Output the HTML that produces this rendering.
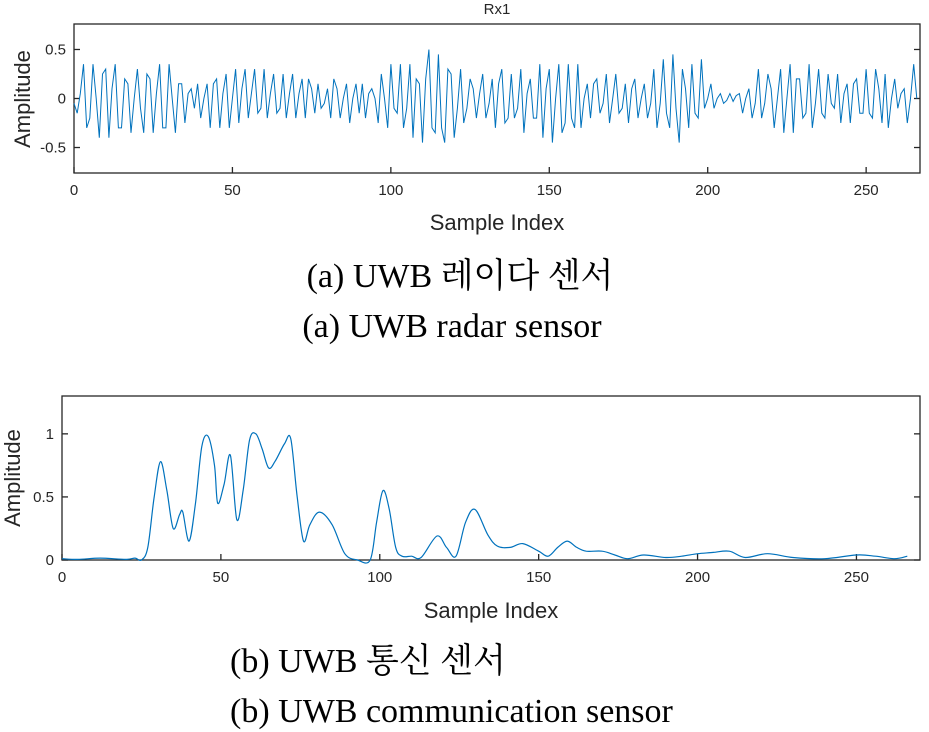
<!DOCTYPE html>
<html><head><meta charset="utf-8"><style>
body{margin:0;background:#fff;width:929px;height:732px;overflow:hidden}
svg{position:absolute;left:0;top:0}
.t{font-family:"Liberation Sans",sans-serif;font-size:15px;fill:#262626}
.ax{font-family:"Liberation Sans",sans-serif;font-size:22px;fill:#262626}
.cap{font-family:"Liberation Serif","Noto Serif CJK SC","Noto Sans CJK KR",serif;font-size:34px;fill:#000}
</style></head><body>
<svg id="s" width="929" height="732">
<text class="t" x="497" y="14" text-anchor="middle" font-size="13">Rx1</text>
<text class="ax" x="497" y="230" text-anchor="middle">Sample Index</text>
<text class="ax" transform="translate(30,99) rotate(-90)" text-anchor="middle">Amplitude</text>
<text class="cap" x="460" y="287" text-anchor="middle">(a) UWB 레이다 센서</text>
<text class="cap" x="452" y="337" text-anchor="middle">(a) UWB radar sensor</text>
<text class="ax" x="491" y="618" text-anchor="middle">Sample Index</text>
<text class="ax" transform="translate(20,478) rotate(-90)" text-anchor="middle">Amplitude</text>
<text class="cap" x="230" y="672">(b) UWB 통신 센서</text>
<text class="cap" x="230" y="722">(b) UWB communication sensor</text>
</svg>
<script>
const rxValues=[-0.05,-0.15,0.05,0.35,-0.3,-0.2,0.35,0.0,-0.4,0.25,0.3,-0.4,0.1,0.35,-0.3,-0.3,0.2,0.15,-0.35,0.0,0.3,-0.1,-0.35,0.25,0.2,-0.35,0.05,0.35,-0.3,-0.3,
0.35,0.0,-0.35,0.15,0.15,-0.25,0.05,0.1,-0.1,0.15,-0.2,0.0,0.15,-0.3,0.15,0.2,-0.3,0.05,0.25,-0.3,0.0,0.3,-0.25,0.1,0.3,-0.2,0.05,0.3,-0.15,-0.1,
0.3,-0.2,0.05,0.25,-0.15,-0.1,0.25,-0.2,0.05,0.25,-0.2,0.05,0.2,-0.2,0.2,0.1,-0.15,0.15,-0.1,-0.05,0.1,-0.2,0.2,0.1,-0.2,0.0,0.15,-0.25,0.0,0.15,
-0.15,0.15,-0.2,0.05,0.1,0.0,-0.25,0.25,0.0,-0.3,0.35,-0.1,-0.15,0.35,-0.3,-0.1,0.35,-0.4,0.2,0.15,-0.45,0.2,0.5,-0.3,-0.35,0.45,-0.3,-0.45,0.3,0.25,
-0.4,-0.1,0.3,-0.25,-0.1,0.2,0.1,-0.2,0.05,0.25,-0.2,-0.05,0.2,-0.3,0.15,0.3,-0.25,-0.2,0.25,-0.2,-0.1,0.3,-0.35,0.05,0.2,-0.2,-0.2,0.35,-0.4,0.1,
0.3,-0.45,0.0,0.35,-0.35,-0.25,0.35,-0.2,-0.3,0.35,-0.3,0.0,0.15,-0.2,0.15,0.2,-0.15,-0.05,0.25,-0.25,0.0,0.25,-0.15,-0.1,0.15,-0.25,0.1,0.2,-0.2,0.0,
0.15,-0.2,-0.05,0.3,-0.3,-0.05,0.4,-0.15,-0.3,0.45,-0.1,-0.45,0.3,0.1,-0.3,0.35,-0.15,-0.2,0.4,-0.1,0.0,0.15,-0.1,0.0,0.05,-0.05,-0.02,0.05,-0.03,0.03,
0.05,-0.15,0.0,0.1,-0.2,-0.05,0.3,-0.2,-0.05,0.25,0.1,-0.3,0.0,0.3,-0.35,0.0,0.35,-0.35,0.2,0.2,-0.2,-0.15,0.35,-0.3,-0.05,0.3,-0.15,-0.2,0.25,-0.05,
-0.1,0.25,-0.25,0.05,0.15,-0.25,0.15,0.2,-0.15,-0.15,0.3,-0.15,-0.2,0.3,0.1,-0.25,0.25,-0.3,0.0,0.2,-0.1,0.05,0.1,-0.25,0.0,0.35,0.0];
const commIdx=[0,5,12,20,23,25,27,29,31,33,35,37,38,40,42,44,46,48,49,51,53,55,57,59,61,63,65,67,70,72,74,76,78,81,85,89,93,97,99,101,103,105,107,110,113,118,121,124,127,130,134,137,141,145,150,153,156,159,162,165,170,174,178,183,190,195,200,205,210,215,222,230,240,250,256,262,266];
const commVals=[0.01,0.005,0.015,0.005,0.015,0,0.1,0.5,0.78,0.55,0.25,0.36,0.38,0.15,0.45,0.9,0.98,0.75,0.45,0.6,0.83,0.32,0.55,0.95,1.0,0.88,0.73,0.78,0.92,0.96,0.5,0.15,0.28,0.38,0.28,0.05,0.0,0.0,0.3,0.55,0.4,0.1,0.03,0.03,0.02,0.19,0.1,0.03,0.3,0.4,0.2,0.11,0.1,0.13,0.07,0.03,0.1,0.15,0.1,0.07,0.07,0.04,0.01,0.04,0.02,0.03,0.05,0.06,0.07,0.02,0.05,0.02,0.01,0.04,0.03,0.01,0.03];
const aXTicks=[0,50,100,150,200,250], aYTicks=[-0.5,0,0.5], aYLabels=["-0.5","0","0.5"];
const bXTicks=[0,50,100,150,200,250], bYTicks=[0,0.5,1], bYLabels=["0","0.5","1"];
const NS='http://www.w3.org/2000/svg', s=document.getElementById('s');
function mk(t,a){const e=document.createElementNS(NS,t);for(const k in a)e.setAttribute(k,a[k]);s.appendChild(e);return e;}
function axes(L,R,T,B,xmax,ymin,ymax,xt,yt,yl,pre){
 const X=v=>L+(R-L)*v/xmax, Y=v=>B-(B-T)*(v-ymin)/(ymax-ymin);
 const f=mk('rect',{x:L,y:T,width:R-L,height:B-T,fill:'none',stroke:'#262626','stroke-width':1.3});
 
 
 xt.forEach(v=>{const x=X(v);
  const l=mk('line',{x1:x,x2:x,y1:B,y2:B-6,stroke:'#262626','stroke-width':1.3});
  
  
  const tx=mk('text',{x:x,y:B+22,'text-anchor':'middle',class:'t'});tx.textContent=v;
  
  });
 yt.forEach((v,i)=>{const y=Y(v);
  mk('line',{x1:L,x2:L+6,y1:y,y2:y,stroke:'#262626','stroke-width':1.3});
  mk('line',{x1:R,x2:R-6,y1:y,y2:y,stroke:'#262626','stroke-width':1.3});
  const tx=mk('text',{x:L-8,y:y+5,'text-anchor':'end',class:'t'});tx.textContent=yl[i];
  
  });
 return [X,Y];
}
let [X,Y]=axes(74,920,24,173,267,-0.76,0.76,aXTicks,aYTicks,aYLabels,'chart-a');
let d=rxValues.map((v,i)=>(i?'L':'M')+X(i).toFixed(1)+','+Y(v).toFixed(1)).join('');
const pa=mk('path',{d:d,fill:'none',stroke:'#0072BD','stroke-width':1});


[X,Y]=axes(62,920,396,560,270,0,1.3,bXTicks,bYTicks,bYLabels,'chart-b');
let p=commIdx.map((v,i)=>[X(v),Y(commVals[i])]);
d='M'+p[0][0]+','+p[0][1];
for(let i=0;i<p.length-1;i++){const p0=p[Math.max(0,i-1)],p1=p[i],p2=p[i+1],p3=p[Math.min(p.length-1,i+2)];
 d+='C'+(p1[0]+(p2[0]-p0[0])/6).toFixed(1)+','+(p1[1]+(p2[1]-p0[1])/6).toFixed(1)+' '+(p2[0]-(p3[0]-p1[0])/6).toFixed(1)+','+(p2[1]-(p3[1]-p1[1])/6).toFixed(1)+' '+p2[0].toFixed(1)+','+p2[1].toFixed(1);}
const pb=mk('path',{d:d,fill:'none',stroke:'#0072BD','stroke-width':1.2});


</script>
</body></html>
